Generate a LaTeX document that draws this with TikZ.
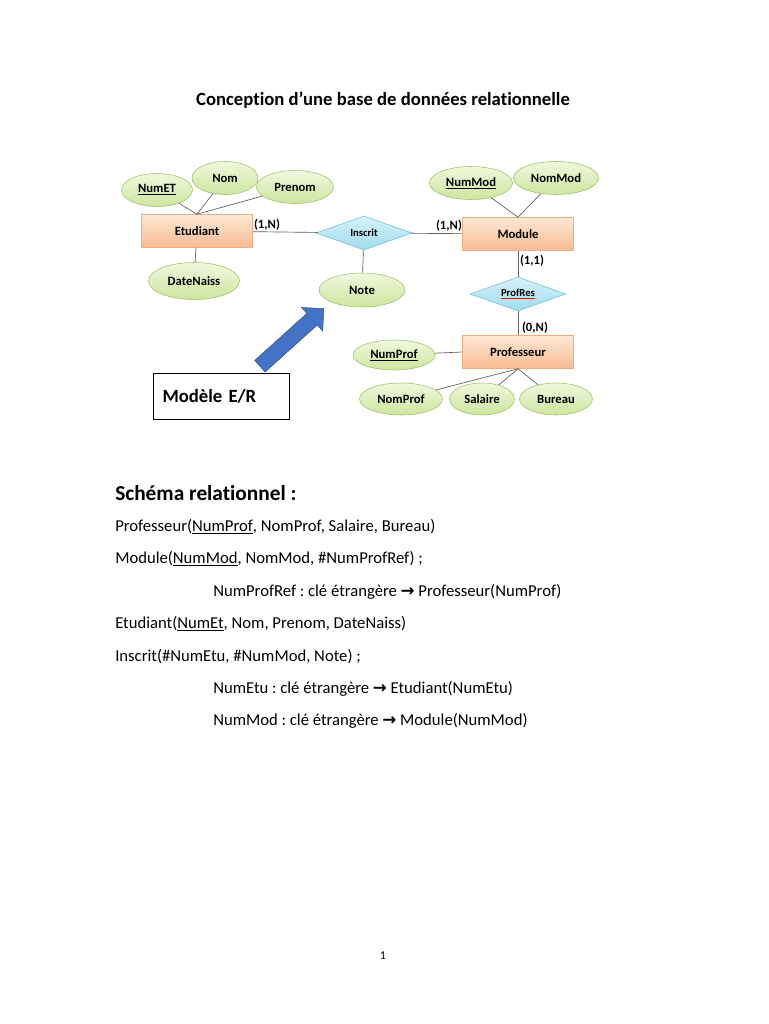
\documentclass[tikz,border=0pt]{standalone}
\usepackage{fontspec}
\setmainfont{Carlito}[Ligatures=NoCommon]
\newfontfamily\symb{DejaVu Sans}
\usepackage{tikz}
\usetikzlibrary{positioning, arrows.meta, shapes.geometric, shapes.arrows}
\usepackage{xcolor}
\frenchspacing

\definecolor{vertclair}{RGB}{240,248,222}
\definecolor{vertfonce}{RGB}{204,230,158}
\definecolor{bordvert}{RGB}{160,190,100}
\definecolor{orangeclair}{RGB}{253,232,214}
\definecolor{orangefonce}{RGB}{248,188,146}
\definecolor{bordorange}{RGB}{240,175,130}
\definecolor{bleuclair}{RGB}{214,242,250}
\definecolor{bleufonce}{RGB}{160,220,238}
\definecolor{bordbleu}{RGB}{110,190,220}
\definecolor{bleuflech}{RGB}{68,114,196}
\definecolor{bordflech}{RGB}{47,82,143}
\definecolor{gris}{RGB}{95,95,95}

\newlength\px
\setlength\px{0.75pt}
\newcommand{\fl}{{\symb\bfseries →}}

\tikzset{
  attr/.style={ellipse, draw=bordvert, top color=vertclair, bottom color=vertfonce,
    inner sep=0pt, minimum height=33\px, font=\bfseries\fontsize{9.5}{10}\selectfont},
  entite/.style={rectangle, draw=bordorange, top color=orangeclair, bottom color=orangefonce,
    inner sep=0pt, minimum width=111\px, minimum height=33\px, font=\bfseries\fontsize{9.5}{10}\selectfont},
  relation/.style={diamond, draw=bordbleu, top color=bleuclair, bottom color=bleufonce,
    aspect=2.9, inner sep=0pt, minimum width=96\px, minimum height=34\px,
    font=\bfseries\fontsize{8}{9}\selectfont},
  lien/.style={draw=gris, line width=0.5pt},
  card/.style={inner sep=0pt, font=\bfseries\fontsize{9.5}{10}\selectfont},
  ligne/.style={anchor=base west, inner sep=0pt, font=\fontsize{12.5}{14}\selectfont}
}

\begin{document}
\begin{tikzpicture}[x=0.75pt, y=-0.75pt]
\fill[white] (0,0) rectangle (768,1024);
\useasboundingbox (0,0) rectangle (768,1024);

% Titre
\node[anchor=base, inner sep=0pt, font=\bfseries\fontsize{14}{16}\selectfont] (titre) at (383,105)
  {Conception d’une base de données relationnelle};

% Entités
\node[entite] (etudiant) at (197,231) {Etudiant};
\node[entite] (module) at (518,234) {Module};
\node[entite] (professeur) at (518,352) {Professeur};

% Associations
\node[relation] (inscrit) at (364,233) {Inscrit};
\node[relation] (profres) at (518,294) {{\color{red}\underline{\color{black}ProfRes}}};

% Attributs
\node[attr, minimum width=71\px] (numet) at (157,190) {\underline{NumET}};
\node[attr, minimum width=66\px] (nom) at (225,178) {Nom};
\node[attr, minimum width=77\px] (prenom) at (295,187) {Prenom};
\node[attr, minimum width=91\px, minimum height=37\px] (datenaiss) at (194,281) {DateNaiss};
\node[attr, minimum width=86\px, minimum height=34\px] (note) at (362,290) {Note};
\node[attr, minimum width=83\px] (nummod) at (471,183) {\underline{NumMod}};
\node[attr, minimum width=85\px] (nommod) at (556,178) {NomMod};
\node[attr, minimum width=82\px, minimum height=30\px] (numprof) at (394,355) {\underline{NumProf}};
\node[attr, minimum width=83\px, minimum height=32\px] (nomprof) at (401,399) {NomProf};
\node[attr, minimum width=65\px, minimum height=32\px] (salaire) at (482,399) {Salaire};
\node[attr, minimum width=73\px, minimum height=32\px] (bureau) at (556,399) {Bureau};

% Liens
\draw[lien] (numet) -- (etudiant.north);
\draw[lien] (nom) -- (etudiant.north);
\draw[lien] (prenom) -- (etudiant.north);
\draw[lien] (etudiant) -- (datenaiss);
\draw[lien] (etudiant) -- (inscrit);
\draw[lien] (inscrit) -- (module);
\draw[lien] (inscrit) -- (note);
\draw[lien] (nummod) -- (module.north);
\draw[lien] (nommod) -- (module.north);
\draw[lien] (module) -- (profres);
\draw[lien] (profres) -- (professeur);
\draw[lien] (numprof) -- (professeur.west);
\draw[lien] (nomprof) -- (professeur.south);
\draw[lien] (salaire) -- (professeur.south);
\draw[lien] (bureau) -- (professeur.south);

% Cardinalités
\node[card] (c1) at (267,225) {(1,N)};
\node[card] (c2) at (449,226) {(1,N)};
\node[card] (c3) at (532,261) {(1,1)};
\node[card] (c4) at (535,328) {(0,N)};

% Flèche et cadre
\node[single arrow, draw=bordflech, fill=bleuflech, inner sep=7.5\px, minimum height=86\px,
  single arrow head extend=8\px, rotate=42] (fleche) at (289,340) {};
\node[draw, line width=0.8pt, anchor=north west, minimum width=132\px, minimum height=46\px,
  text width=118\px, inner xsep=9\px, align=left, font=\bfseries\fontsize{14}{16}\selectfont]
  (modele) at (153,373) {Modèle E/R};

% Schéma relationnel
\node[anchor=base west, inner sep=0pt, font=\bfseries\fontsize{16}{18}\selectfont] (schema) at (115,500)
  {Schéma relationnel :};
\node[ligne] (l1) at (115,531) {Professeur(\underline{NumProf}, NomProf, Salaire, Bureau)};
\node[ligne] (l2) at (115,563) {Module(\underline{NumMod}, NomMod, \#NumProfRef) ;};
\node[ligne] (l3) at (213,596) {NumProfRef : clé étrangère \fl{} Professeur(NumProf)};
\node[ligne] (l4) at (115,628) {Etudiant(\underline{NumEt}, Nom, Prenom, DateNaiss)};
\node[ligne] (l5) at (115,661) {Inscrit(\#NumEtu, \#NumMod, Note) ;};
\node[ligne] (l6) at (213,693) {NumEtu : clé étrangère \fl{} Etudiant(NumEtu)};
\node[ligne] (l7) at (213,725) {NumMod : clé étrangère \fl{} Module(NumMod)};

% Numéro de page
\node[anchor=base, inner sep=0pt, font=\fontsize{9}{10}\selectfont] (page) at (383,959) {1};
\end{tikzpicture}
\end{document}
